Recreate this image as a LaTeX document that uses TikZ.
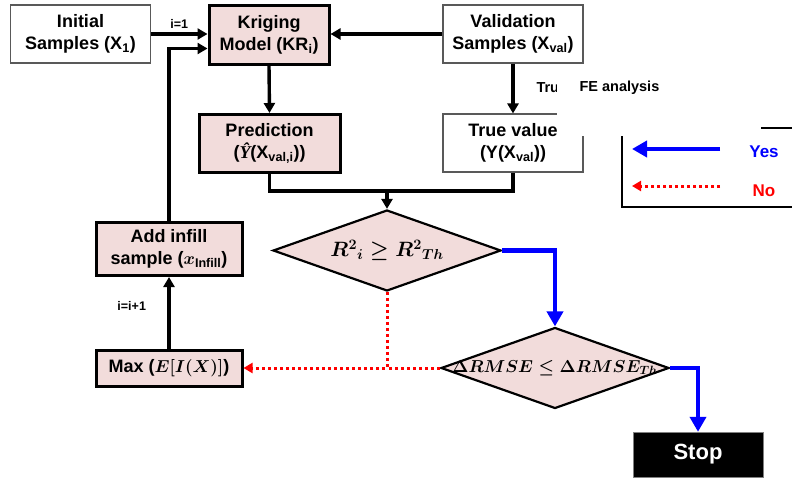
\documentclass[tikz,border=0pt]{standalone}
\usepackage{fontspec}
\setmainfont{Liberation Sans}
\newfontfamily\serifit{Liberation Serif}
\usetikzlibrary{arrows.meta,shapes.geometric}
\definecolor{boxpink}{HTML}{F2DCDB}

\begin{document}
\begin{tikzpicture}[x=1pt,y=-1pt,line join=miter,
  font=\bfseries\fontsize{18}{22}\selectfont,
  plainbox/.style={draw=gray!70!black,line width=1.1pt,fill=white,align=center,
    minimum width=140pt,minimum height=58pt,inner sep=0pt},
  pinkbox/.style={draw=black,line width=3pt,fill=boxpink,align=center,inner sep=0pt},
  decide/.style={diamond,draw=black,line width=2.2pt,fill=boxpink,inner sep=0pt,
    aspect=2.8,minimum width=228pt,minimum height=81pt},
  flow/.style={line width=3.4pt,-{Triangle[width=11pt,length=10pt]}},
  yesflow/.style={blue,line width=4.4pt,-{Triangle[width=16pt,length=15pt]}},
  noflow/.style={red,line width=3pt,dash pattern=on 3pt off 3pt},
  small/.style={font=\bfseries\fontsize{12.5}{14}\selectfont}]
  \useasboundingbox (0,0) rectangle (792,479);

  \node[plainbox] (init) at (80.5,34) {Initial\\Samples (X\textsubscript{1})};
  \node[pinkbox,minimum width=120pt,minimum height=59pt] (kr) at (269,34.5)
    {Kriging\\Model (KR\textsubscript{i})};
  \node[plainbox] (valid) at (513,34) {Validation\\Samples (X\textsubscript{val})};
  \node[pinkbox,minimum width=141pt,minimum height=58pt] (pred) at (269.5,143.5)
    {Prediction\\({\serifit\itshape Ŷ}(X\textsubscript{val,i}))};
  \node[plainbox] (truev) at (513,143) {True value\\(Y(X\textsubscript{val}))};
  \node[pinkbox,minimum width=146pt,minimum height=53pt] (infill) at (169,249)
    {Add infill\\sample ({\boldmath$x$}\textsubscript{Infill})};
  \node[pinkbox,minimum width=146pt,minimum height=36pt] (maxei) at (169,368)
    {Max ({\boldmath$E\big[I(X)\big]$})};
  \node[decide,font=\fontsize{20}{22}\selectfont] (d1) at (387,250.5)
    {\makebox[0pt]{\boldmath$R^{2}{}_{i} \geq R^{2}{}_{Th}$}};
  \node[decide,font=\fontsize{18}{22}\selectfont] (d2) at (555,368)
    {\makebox[0pt]{\boldmath$\Delta RMSE \leq \Delta RMSE_{Th}$}};
  \node[draw=gray,fill=black,text=white,minimum width=130pt,minimum height=45pt,
    font=\bfseries\fontsize{22}{24}\selectfont] (stop) at (698,454.5) {Stop};

  \draw[flow] (init.east) -- node[above,small] {i=1} (init.east -| kr.west);
  \draw[flow] (valid.west) -- (valid.west -| kr.east);
  \draw[flow] (infill.north) |- ([yshift=-14pt]kr.west);
  \draw[flow] (kr.south) -- (pred.north);
  \draw[flow] (valid.south) -- (truev.north);
  \node[anchor=west,font=\bfseries\fontsize{14.5}{16}\selectfont] (tru) at (533,88) {True};
  \coordinate (join) at (387,191);
  \draw[line width=3.4pt] (truev.south) |- (join);
  \draw[flow] (pred.south) |- (join) -- (d1.north);
  \draw[flow] (maxei.north) -- node[left=18pt,pos=.6,small] {i=i+1} (infill.south);

  \draw[yesflow] (d1.east) -| (d2.north);
  \draw[yesflow] (d2.east) -| (stop.north);
  \draw[noflow] (d2.west) -- (d1.south |- d2.west);
  \draw[noflow,-{Triangle[width=10pt,length=9pt]}] (d1.south) |- (maxei.east);

  \draw[line width=2.2pt] (622,128) rectangle (800,207);
  \coordinate (yesfrom) at (720,149);
  \coordinate (yesto) at (632,149);
  \coordinate (nofrom) at (720,186);
  \coordinate (noto) at (632,186);
  \draw[yesflow] (yesfrom) -- (yesto);
  \draw[noflow,-{Triangle[width=10pt,length=9pt]}] (nofrom) -- (noto);
  \node[blue,font=\bfseries\fontsize{17}{19}\selectfont] (yes) at (764,152) {Yes};
  \node[red,font=\bfseries\fontsize{17}{19}\selectfont] (no) at (764,191) {No};

  \fill[white] (557,72) rectangle (761,136);
  \node[anchor=west,font=\bfseries\fontsize{14.5}{16}\selectfont] (fe) at (576,88) {FE analysis};
\end{tikzpicture}
\end{document}
